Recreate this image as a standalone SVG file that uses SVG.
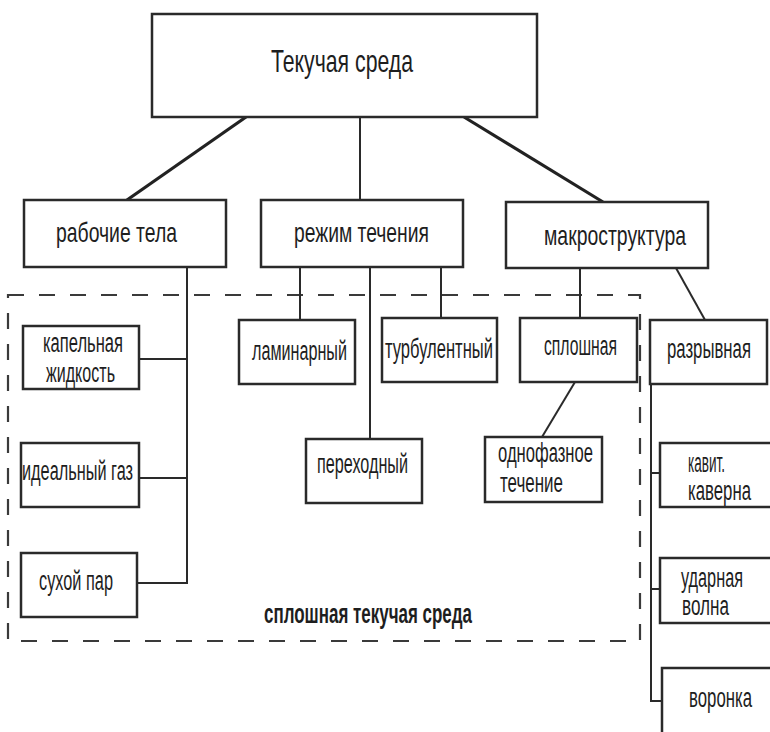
<svg xmlns="http://www.w3.org/2000/svg" width="770" height="732" viewBox="0 0 770 732">
<style>
.box{fill:#fff;stroke:#2a2a2a;stroke-width:2.5}
.ln{stroke:#2a2a2a;stroke-width:2;fill:none}
.thick{stroke:#222;stroke-width:3.2;fill:none}
.dash{fill:none;stroke:#3a3a3a;stroke-width:2.2;stroke-dasharray:16 15}
text{font-family:"Liberation Sans",Arial,sans-serif;fill:#1e1e1e;lengthAdjust:spacingAndGlyphs}
.t1{font-size:32px}
.t2{font-size:28px}
.t3{font-size:27px}
.tb{font-size:27px;font-weight:bold}
</style>
<rect width="770" height="732" fill="#fff"/>
<rect class="dash" x="8" y="295" width="632" height="346"/>
<g id="connectors">
<line class="thick" x1="246" y1="117" x2="127" y2="200"/>
<line class="ln" x1="360" y1="117" x2="360" y2="200"/>
<line class="thick" x1="464" y1="117" x2="603" y2="202"/>
<polyline class="ln" points="187,267 187,583 137,583"/>
<line class="ln" x1="139" y1="359" x2="187" y2="359"/>
<line class="ln" x1="139" y1="478" x2="187" y2="478"/>
<line class="ln" x1="300" y1="267" x2="300" y2="320"/>
<line class="ln" x1="370" y1="267" x2="370" y2="439"/>
<line class="ln" x1="441" y1="267" x2="441" y2="318"/>
<line class="ln" x1="580" y1="268" x2="580" y2="318"/>
<line class="ln" x1="676" y1="268" x2="705" y2="320"/>
<line class="ln" x1="575" y1="382" x2="542" y2="437"/>
<polyline class="ln" points="651,384 651,701 662,701"/>
<line class="ln" x1="651" y1="473" x2="660" y2="473"/>
<line class="ln" x1="651" y1="589" x2="660" y2="589"/>
</g>
<g id="n-top"><rect class="box" x="152" y="14" width="385" height="103"/><text class="t1" x="271" y="72" textLength="142" lengthAdjust="spacingAndGlyphs">Текучая среда</text></g>
<g id="n-rab"><rect class="box" x="24" y="200" width="202" height="67"/><text class="t2" x="56" y="242" textLength="121" lengthAdjust="spacingAndGlyphs">рабочие тела</text></g>
<g id="n-rezh"><rect class="box" x="261" y="200" width="202" height="67"/><text class="t2" x="294" y="242" textLength="135" lengthAdjust="spacingAndGlyphs">режим течения</text></g>
<g id="n-makro"><rect class="box" x="506" y="202" width="202" height="66"/><text class="t2" x="544" y="245" textLength="142" lengthAdjust="spacingAndGlyphs">макроструктура</text></g>
<g id="n-kap"><rect class="box" x="23" y="326" width="116" height="63"/><text class="t3" x="43" y="352" textLength="80" lengthAdjust="spacingAndGlyphs">капельная</text><text class="t3" x="46" y="382" textLength="69" lengthAdjust="spacingAndGlyphs">жидкость</text></g>
<g id="n-gaz"><rect class="box" x="21" y="443" width="118" height="64"/><text class="t3" x="22" y="480" textLength="111" lengthAdjust="spacingAndGlyphs">идеальный газ</text></g>
<g id="n-par"><rect class="box" x="21" y="553" width="116" height="64"/><text class="t3" x="39" y="590" textLength="74" lengthAdjust="spacingAndGlyphs">сухой пар</text></g>
<g id="n-lam"><rect class="box" x="239" y="320" width="116" height="64"/><text class="t3" x="252" y="360" textLength="95" lengthAdjust="spacingAndGlyphs">ламинарный</text></g>
<g id="n-per"><rect class="box" x="306" y="439" width="116" height="64"/><text class="t3" x="317" y="473" textLength="91" lengthAdjust="spacingAndGlyphs">переходный</text></g>
<g id="n-turb"><rect class="box" x="382" y="318" width="115" height="64"/><text class="t3" x="385" y="358" textLength="108" lengthAdjust="spacingAndGlyphs">турбулентный</text></g>
<g id="n-spl"><rect class="box" x="520" y="318" width="117" height="64"/><text class="t3" x="544" y="355" textLength="73" lengthAdjust="spacingAndGlyphs">сплошная</text></g>
<g id="n-odn"><rect class="box" x="485" y="437" width="117" height="65"/><text class="t3" x="498" y="462" textLength="95" lengthAdjust="spacingAndGlyphs">однофазное</text><text class="t3" x="500" y="492" textLength="63" lengthAdjust="spacingAndGlyphs">течение</text></g>
<g id="n-razr"><rect class="box" x="650" y="320" width="117" height="64"/><text class="t3" x="667" y="358" textLength="84" lengthAdjust="spacingAndGlyphs">разрывная</text></g>
<g id="n-kav"><rect class="box" x="660" y="443" width="120" height="64"/><text class="t3" x="688" y="472" textLength="37" lengthAdjust="spacingAndGlyphs">кавит.</text><text class="t3" x="688" y="500" textLength="63" lengthAdjust="spacingAndGlyphs">каверна</text></g>
<g id="n-udar"><rect class="box" x="660" y="558" width="120" height="65"/><text class="t3" x="681" y="587" textLength="62" lengthAdjust="spacingAndGlyphs">ударная</text><text class="t3" x="682" y="615" textLength="47" lengthAdjust="spacingAndGlyphs">волна</text></g>
<g id="n-vor"><rect class="box" x="662" y="668" width="120" height="80"/><text class="t3" x="689" y="707" textLength="63" lengthAdjust="spacingAndGlyphs">воронка</text></g>
<g id="label"><text class="tb" x="264" y="623" textLength="208" lengthAdjust="spacingAndGlyphs">сплошная текучая среда</text></g>
</svg>
